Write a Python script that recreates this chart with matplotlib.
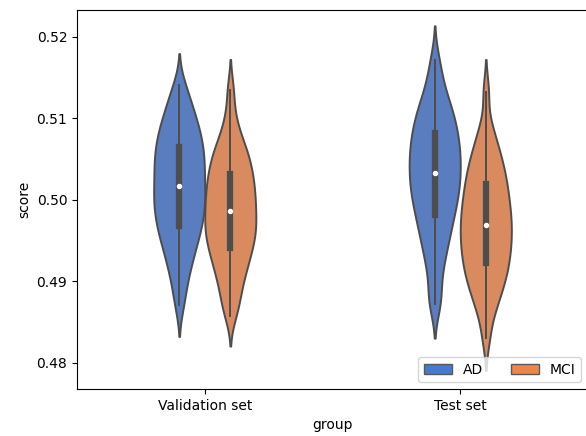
import numpy as np
import pandas as pd
import seaborn as sns
import matplotlib
matplotlib.use("Agg")
import matplotlib.pyplot as plt
import matplotlib.patches as mpatches

groups = ["Validation set", "Test set"]
classes = ["AD", "MCI"]

# scores (approximate samples per group/class)
val_ad = [0.4871, 0.4893, 0.4908, 0.4920, 0.4929, 0.4938, 0.4945, 0.4952, 0.4959, 0.4964,
          0.4969, 0.4975, 0.4980, 0.4985, 0.4990, 0.4995, 0.5000, 0.5004, 0.5009, 0.5014,
          0.5019, 0.5024, 0.5029, 0.5035, 0.5039, 0.5044, 0.5049, 0.5054, 0.5059, 0.5064,
          0.5069, 0.5075, 0.5080, 0.5086, 0.5092, 0.5099, 0.5107, 0.5115, 0.5126, 0.5141]
val_mci = [0.4858, 0.4871, 0.4883, 0.4894, 0.4903, 0.4911, 0.4918, 0.4924, 0.4930, 0.4936,
           0.4941, 0.4946, 0.4951, 0.4955, 0.4959, 0.4964, 0.4968, 0.4972, 0.4977, 0.4981,
           0.4986, 0.4990, 0.4995, 0.4999, 0.5004, 0.5008, 0.5013, 0.5018, 0.5022, 0.5027,
           0.5032, 0.5037, 0.5043, 0.5048, 0.5053, 0.5060, 0.5067, 0.5074, 0.5086, 0.5104,
           0.5135]
test_ad = [0.4872,
           0.4879, 0.4904, 0.4920, 0.4932, 0.4942, 0.4951, 0.4959, 0.4966, 0.4973, 0.4980,
           0.4986, 0.4991, 0.4997, 0.5002, 0.5007, 0.5012, 0.5017, 0.5021, 0.5026, 0.5031,
           0.5035, 0.5040, 0.5045, 0.5049, 0.5054, 0.5058, 0.5063, 0.5068, 0.5073, 0.5077,
           0.5083, 0.5088, 0.5093, 0.5099, 0.5105, 0.5111, 0.5118, 0.5127, 0.5136, 0.5153,
           0.5172]
test_mci = [0.4830, 0.4856, 0.4869, 0.4879, 0.4887, 0.4894, 0.4900, 0.4906, 0.4912, 0.4917,
            0.4922, 0.4927, 0.4932, 0.4937, 0.4942, 0.4946, 0.4951, 0.4956, 0.4960, 0.4965,
            0.4969, 0.4974, 0.4979, 0.4983, 0.4988, 0.4993, 0.4998, 0.5003, 0.5008, 0.5014,
            0.5019, 0.5025, 0.5030, 0.5037, 0.5043, 0.5050, 0.5057, 0.5067, 0.5077, 0.5092,
            0.5133]

rows = []
for g, c, vals in [(groups[0], "AD", val_ad), (groups[0], "MCI", val_mci),
                   (groups[1], "AD", test_ad), (groups[1], "MCI", test_mci)]:
    for v in vals:
        rows.append({"group": g, "class": c, "score": v})
df = pd.DataFrame(rows)

fig = plt.figure(figsize=(5.86, 4.36), dpi=100)
ax = fig.add_axes([77 / 586, 47 / 436, 511 / 586, 379 / 436])

pal = sns.color_palette("muted", 2)
sns.violinplot(data=df, x="group", y="score", hue="class", order=groups,
               hue_order=classes, palette=pal, width=0.4, density_norm="width",
               bw_adjust=0.6, linewidth=1.4, linecolor="0.3",
               inner_kws=dict(box_width=4.5, whis_width=1.4, marker="o"),
               ax=ax, legend=False)

# smaller median dots
for ln in ax.lines:
    if ln.get_marker() == "o":
        ln.set_markersize(3)

ax.set_xlim(-0.5, 1.5)
ax.set_ylim(0.4768, 0.5233)
ax.set_yticks([0.48, 0.49, 0.50, 0.51, 0.52])
ax.set_yticklabels(["0.48", "0.49", "0.50", "0.51", "0.52"])

handles = [mpatches.Patch(facecolor=pal[i], edgecolor="0.35", label=classes[i]) for i in range(2)]
ax.legend(handles=handles, loc="lower right", ncol=2)

fig.savefig("out.png", dpi=100)
